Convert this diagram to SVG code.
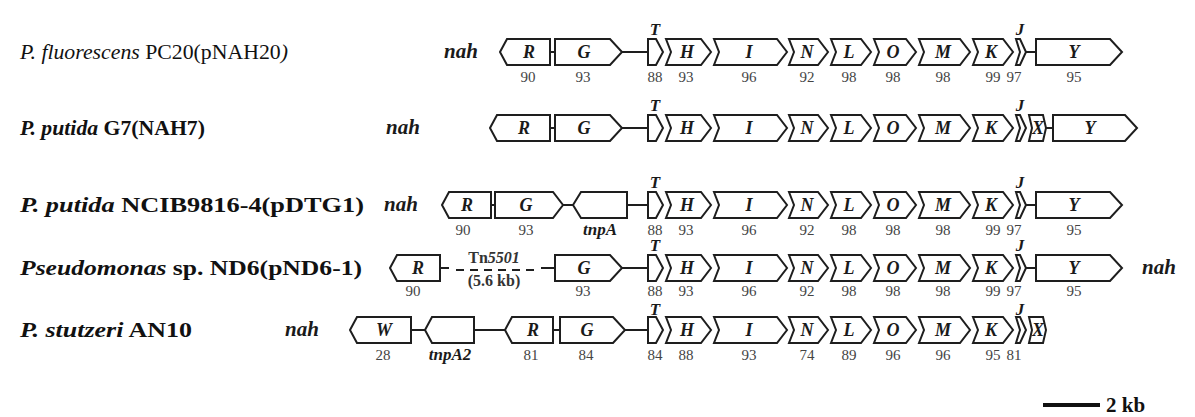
<svg xmlns="http://www.w3.org/2000/svg" xmlns:xlink="http://www.w3.org/1999/xlink" width="1195" height="417" viewBox="0 0 1195 417">
<style>
.g{fill:#fff;stroke:#1e1e1e;stroke-width:2;stroke-linejoin:miter}
.ln{stroke:#1e1e1e;stroke-width:2;fill:none}
.dash{stroke:#1e1e1e;stroke-width:2;fill:none;stroke-dasharray:8 6}
.gl{font-family:"Liberation Serif",serif;font-weight:bold;font-style:italic;font-size:18px;text-anchor:middle;fill:#1a1a1a}
.num{font-family:"Liberation Serif",serif;font-size:15px;text-anchor:middle;fill:#444}
.lab{font-family:"Liberation Serif",serif;font-weight:bold;font-size:21px;fill:#111}
.lab1{font-family:"Liberation Serif",serif;font-size:21px;fill:#111}
.it{font-style:italic}
.nah{font-family:"Liberation Serif",serif;font-weight:bold;font-style:italic;font-size:21px;fill:#1a1a1a}
.tl{font-family:"Liberation Serif",serif;font-weight:bold;font-style:italic;font-size:17px;text-anchor:middle;fill:#1a1a1a}
.tn{font-family:"Liberation Serif",serif;font-weight:bold;font-size:16px;text-anchor:middle;fill:#333}
</style>
<defs>
<path id="pG" d="M555,-13 H610 L622,0 L610,13 H555 Z"/>
<path id="pT" d="M648,-13 H656 L663,0 L656,13 H648 Z"/>
<path id="pH" d="M666,-13 H701 L711,0 L701,13 H666 L671,0 Z"/>
<path id="pI" d="M714,-13 H777 L787,0 L777,13 H714 L719,0 Z"/>
<path id="pN" d="M789,-13 H818 L828,0 L818,13 H789 L794,0 Z"/>
<path id="pL" d="M831,-13 H861 L871,0 L861,13 H831 L836,0 Z"/>
<path id="pO" d="M874,-13 H906 L916,0 L906,13 H874 L879,0 Z"/>
<path id="pM" d="M919,-13 H960 L970,0 L960,13 H919 L924,0 Z"/>
<path id="pK" d="M973,-13 H1003 L1013,0 L1003,13 H973 L978,0 Z"/>
<path id="pJ" d="M1016,-13 H1020 L1026,0 L1020,13 H1016 L1020,0 Z"/>
<path id="pY" d="M1036,-13 H1110 L1122,0 L1110,13 H1036 Z"/>
<path id="pX" d="M1029,-13 H1043 L1046,0 L1043,13 H1029 L1032,0 Z"/>
</defs>
<rect width="1195" height="417" fill="#fff"/>

<!-- connectors -->
<g id="connectors">
<path class="ln" d="M550,52 H555 M622,52 H648 M1026,52 H1036"/>
<path class="ln" d="M550,128 H556 M622,128 H648 M1046,128 H1053"/>
<path class="ln" d="M491,205 H495 M563,205 H573 M627,205 H648 M1026,205 H1036"/>
<path class="ln" d="M440,268 H449 M541,268 H555 M622,268 H648 M1026,268 H1036"/>
<path class="dash" d="M456,270 H536"/>
<path class="ln" d="M411,330 H425 M474,330 H505 M553,330 H560 M625,330 H648"/>
</g>

<!-- Row 1 -->
<g id="row1">
<text id="label1" class="lab1" x="20" y="59" textLength="268" lengthAdjust="spacingAndGlyphs"><tspan class="it">P. fluorescens</tspan> PC20(pNAH20<tspan class="it">)</tspan></text>
<text class="nah" x="444" y="58">nah</text>
<g id="r1R"><path class="g" d="M500,52 L507,39 H550 V65 H507 Z"/><text class="gl" x="529" y="58">R</text><text class="num" x="528" y="82">90</text></g>
<g id="r1G"><use href="#pG" class="g" y="52"/><text class="gl" x="584" y="58">G</text><text class="num" x="583" y="82">93</text></g>
<g id="r1T"><use href="#pT" class="g" y="52"/><text class="tl" x="655" y="35">T</text><text class="num" x="655" y="82">88</text></g>
<g id="r1H"><use href="#pH" class="g" y="52"/><text class="gl" x="687" y="58">H</text><text class="num" x="686" y="82">93</text></g>
<g id="r1I"><use href="#pI" class="g" y="52"/><text class="gl" x="749" y="58">I</text><text class="num" x="749" y="82">96</text></g>
<g id="r1N"><use href="#pN" class="g" y="52"/><text class="gl" x="807" y="58">N</text><text class="num" x="807" y="82">92</text></g>
<g id="r1L"><use href="#pL" class="g" y="52"/><text class="gl" x="849" y="58">L</text><text class="num" x="849" y="82">98</text></g>
<g id="r1O"><use href="#pO" class="g" y="52"/><text class="gl" x="893" y="58">O</text><text class="num" x="893" y="82">98</text></g>
<g id="r1M"><use href="#pM" class="g" y="52"/><text class="gl" x="943" y="58">M</text><text class="num" x="943" y="82">98</text></g>
<g id="r1K"><use href="#pK" class="g" y="52"/><text class="gl" x="991" y="58">K</text><text class="num" x="993" y="82">99</text></g>
<g id="r1J"><use href="#pJ" class="g" y="52"/><text class="tl" x="1020" y="35">J</text><text class="num" x="1014" y="82">97</text></g>
<g id="r1Y"><use href="#pY" class="g" y="52"/><text class="gl" x="1074" y="58">Y</text><text class="num" x="1074" y="82">95</text></g>
</g>

<!-- Row 2 -->
<g id="row2">
<text id="label2" class="lab" x="20" y="135" textLength="185" lengthAdjust="spacingAndGlyphs"><tspan class="it">P. putida</tspan> G7(NAH7)</text>
<text class="nah" x="386" y="134">nah</text>
<g id="r2R"><path class="g" d="M490,128 L497,115 H550 V141 H497 Z"/><text class="gl" x="524" y="134">R</text></g>
<g id="r2G"><use href="#pG" class="g" y="128"/><text class="gl" x="584" y="134">G</text></g>
<g id="r2T"><use href="#pT" class="g" y="128"/><text class="tl" x="655" y="111">T</text></g>
<g id="r2H"><use href="#pH" class="g" y="128"/><text class="gl" x="687" y="134">H</text></g>
<g id="r2I"><use href="#pI" class="g" y="128"/><text class="gl" x="749" y="134">I</text></g>
<g id="r2N"><use href="#pN" class="g" y="128"/><text class="gl" x="807" y="134">N</text></g>
<g id="r2L"><use href="#pL" class="g" y="128"/><text class="gl" x="849" y="134">L</text></g>
<g id="r2O"><use href="#pO" class="g" y="128"/><text class="gl" x="893" y="134">O</text></g>
<g id="r2M"><use href="#pM" class="g" y="128"/><text class="gl" x="943" y="134">M</text></g>
<g id="r2K"><use href="#pK" class="g" y="128"/><text class="gl" x="991" y="134">K</text></g>
<g id="r2J"><use href="#pJ" class="g" y="128"/><text class="tl" x="1020" y="111">J</text></g>
<g id="r2X"><use href="#pX" class="g" y="128"/><text class="gl" x="1038" y="134" font-size="16">X</text></g>
<g id="r2Y"><path class="g" d="M1053,115 H1125 L1137,128 L1125,141 H1053 Z"/><text class="gl" x="1090" y="134">Y</text></g>
</g>

<!-- Row 3 -->
<g id="row3">
<text id="label3" class="lab" x="20" y="212" textLength="344" lengthAdjust="spacingAndGlyphs"><tspan class="it">P. putida</tspan> NCIB9816-4(pDTG1)</text>
<text class="nah" x="384" y="211">nah</text>
<g id="r3R"><path class="g" d="M442,205 L449,192 H491 V218 H449 Z"/><text class="gl" x="467" y="211">R</text><text class="num" x="463" y="235">90</text></g>
<g id="r3G"><path class="g" d="M495,192 H553 L563,205 L553,218 H495 Z"/><text class="gl" x="526" y="211">G</text><text class="num" x="526" y="235">93</text></g>
<g id="r3tnpA"><path class="g" d="M573,205 L581,192 H627 V218 H581 Z"/><text class="tl" x="600" y="235">tnpA</text></g>
<g id="r3T"><use href="#pT" class="g" y="205"/><text class="tl" x="655" y="188">T</text><text class="num" x="655" y="235">88</text></g>
<g id="r3H"><use href="#pH" class="g" y="205"/><text class="gl" x="687" y="211">H</text><text class="num" x="686" y="235">93</text></g>
<g id="r3I"><use href="#pI" class="g" y="205"/><text class="gl" x="749" y="211">I</text><text class="num" x="749" y="235">96</text></g>
<g id="r3N"><use href="#pN" class="g" y="205"/><text class="gl" x="807" y="211">N</text><text class="num" x="807" y="235">92</text></g>
<g id="r3L"><use href="#pL" class="g" y="205"/><text class="gl" x="849" y="211">L</text><text class="num" x="849" y="235">98</text></g>
<g id="r3O"><use href="#pO" class="g" y="205"/><text class="gl" x="893" y="211">O</text><text class="num" x="893" y="235">98</text></g>
<g id="r3M"><use href="#pM" class="g" y="205"/><text class="gl" x="943" y="211">M</text><text class="num" x="943" y="235">98</text></g>
<g id="r3K"><use href="#pK" class="g" y="205"/><text class="gl" x="991" y="211">K</text><text class="num" x="993" y="235">99</text></g>
<g id="r3J"><use href="#pJ" class="g" y="205"/><text class="tl" x="1020" y="188">J</text><text class="num" x="1014" y="235">97</text></g>
<g id="r3Y"><use href="#pY" class="g" y="205"/><text class="gl" x="1074" y="211">Y</text><text class="num" x="1074" y="235">95</text></g>
</g>

<!-- Row 4 -->
<g id="row4">
<text id="label4" class="lab" x="20" y="275" textLength="342" lengthAdjust="spacingAndGlyphs"><tspan class="it">Pseudomonas</tspan> sp. ND6(pND6-1)</text>
<g id="r4R"><path class="g" d="M390,268 L397,255 H440 V281 H397 Z"/><text class="gl" x="418" y="274">R</text><text class="num" x="413" y="296">90</text></g>
<g id="r4Tn"><text class="tn" x="494" y="263">Tn<tspan class="it">5501</tspan></text><text class="tn" x="494" y="286">(5.6 kb)</text></g>
<g id="r4G"><use href="#pG" class="g" y="268"/><text class="gl" x="584" y="274">G</text><text class="num" x="583" y="296">93</text></g>
<g id="r4T"><use href="#pT" class="g" y="268"/><text class="tl" x="655" y="251">T</text><text class="num" x="655" y="296">88</text></g>
<g id="r4H"><use href="#pH" class="g" y="268"/><text class="gl" x="687" y="274">H</text><text class="num" x="686" y="296">93</text></g>
<g id="r4I"><use href="#pI" class="g" y="268"/><text class="gl" x="749" y="274">I</text><text class="num" x="749" y="296">96</text></g>
<g id="r4N"><use href="#pN" class="g" y="268"/><text class="gl" x="807" y="274">N</text><text class="num" x="807" y="296">92</text></g>
<g id="r4L"><use href="#pL" class="g" y="268"/><text class="gl" x="849" y="274">L</text><text class="num" x="849" y="296">98</text></g>
<g id="r4O"><use href="#pO" class="g" y="268"/><text class="gl" x="893" y="274">O</text><text class="num" x="893" y="296">98</text></g>
<g id="r4M"><use href="#pM" class="g" y="268"/><text class="gl" x="943" y="274">M</text><text class="num" x="943" y="296">98</text></g>
<g id="r4K"><use href="#pK" class="g" y="268"/><text class="gl" x="991" y="274">K</text><text class="num" x="993" y="296">99</text></g>
<g id="r4J"><use href="#pJ" class="g" y="268"/><text class="tl" x="1020" y="251">J</text><text class="num" x="1014" y="296">97</text></g>
<g id="r4Y"><use href="#pY" class="g" y="268"/><text class="gl" x="1074" y="274">Y</text><text class="num" x="1074" y="296">95</text></g>
<text class="nah" x="1142" y="274">nah</text>
</g>

<!-- Row 5 -->
<g id="row5">
<text id="label5" class="lab" x="20" y="337" textLength="172" lengthAdjust="spacingAndGlyphs"><tspan class="it">P. stutzeri</tspan> AN10</text>
<text class="nah" x="285" y="336">nah</text>
<g id="r5W"><path class="g" d="M350,330 L357,317 H411 V343 H357 Z"/><text class="gl" x="384" y="336">W</text><text class="num" x="383" y="360">28</text></g>
<g id="r5tnpA2"><path class="g" d="M425,330 L432,317 H474 V343 H432 Z"/><text class="tl" x="450" y="360">tnpA2</text></g>
<g id="r5R"><path class="g" d="M505,330 L512,317 H553 V343 H512 Z"/><text class="gl" x="533" y="336">R</text><text class="num" x="531" y="360">81</text></g>
<g id="r5G"><path class="g" d="M560,317 H613 L625,330 L613,343 H560 Z"/><text class="gl" x="587" y="336">G</text><text class="num" x="586" y="360">84</text></g>
<g id="r5T"><use href="#pT" class="g" y="330"/><text class="tl" x="655" y="315">T</text><text class="num" x="655" y="360">84</text></g>
<g id="r5H"><use href="#pH" class="g" y="330"/><text class="gl" x="687" y="336">H</text><text class="num" x="686" y="360">88</text></g>
<g id="r5I"><use href="#pI" class="g" y="330"/><text class="gl" x="749" y="336">I</text><text class="num" x="749" y="360">93</text></g>
<g id="r5N"><use href="#pN" class="g" y="330"/><text class="gl" x="807" y="336">N</text><text class="num" x="807" y="360">74</text></g>
<g id="r5L"><use href="#pL" class="g" y="330"/><text class="gl" x="849" y="336">L</text><text class="num" x="849" y="360">89</text></g>
<g id="r5O"><use href="#pO" class="g" y="330"/><text class="gl" x="893" y="336">O</text><text class="num" x="893" y="360">96</text></g>
<g id="r5M"><use href="#pM" class="g" y="330"/><text class="gl" x="943" y="336">M</text><text class="num" x="943" y="360">96</text></g>
<g id="r5K"><use href="#pK" class="g" y="330"/><text class="gl" x="991" y="336">K</text><text class="num" x="993" y="360">95</text></g>
<g id="r5J"><use href="#pJ" class="g" y="330"/><text class="tl" x="1020" y="315">J</text><text class="num" x="1014" y="360">81</text></g>
<g id="r5X"><use href="#pX" class="g" y="330"/><text class="gl" x="1038" y="336" font-size="16">X</text></g>
</g>

<!-- Scale bar -->
<g id="scalebar">
<line x1="1043" y1="405" x2="1100" y2="405" stroke="#111" stroke-width="4"/>
<text class="lab" x="1106" y="412" font-size="20">2 kb</text>
</g>
</svg>
